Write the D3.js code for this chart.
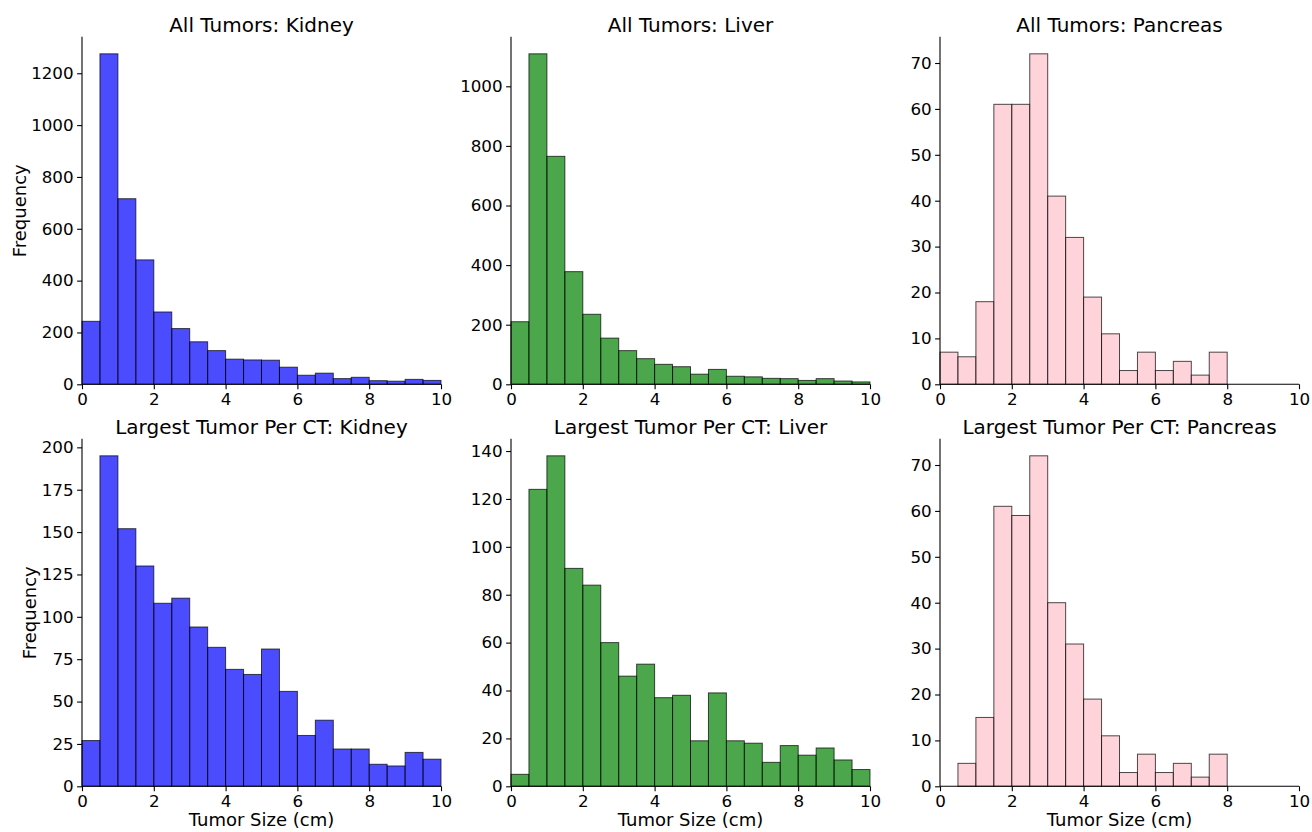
<!DOCTYPE html>
<html>
<head>
<meta charset="utf-8">
<script src="https://cdn.jsdelivr.net/npm/d3@7"></script>
<style>
  body { margin: 0; background: #fff; }
  svg { display: block; font-family: "DejaVu Sans", sans-serif; }
</style>
</head>
<body>
<script>
'use strict';
// histogram bins (cm)
const binEdges = [0, 0.5, 1, 1.5, 2, 2.5, 3, 3.5, 4, 4.5, 5, 5.5, 6, 6.5, 7, 7.5, 8, 8.5, 9, 9.5, 10];

const titles = [
  'All Tumors: Kidney', 'All Tumors: Liver', 'All Tumors: Pancreas',
  'Largest Tumor Per CT: Kidney', 'Largest Tumor Per CT: Liver', 'Largest Tumor Per CT: Pancreas'
];

// counts per bin
const allKidney = [243, 1275, 716, 480, 279, 215, 164, 130, 97, 94, 93, 66, 35, 43, 22, 27, 14, 12, 19, 15];
const allLiver = [210, 1109, 765, 378, 235, 155, 113, 86, 67, 59, 34, 50, 27, 25, 20, 19, 13, 19, 11, 8];
const allPancreas = [7, 6, 18, 61, 61, 72, 41, 32, 19, 11, 3, 7, 3, 5, 2, 7, 0, 0, 0, 0];
const largestKidney = [27, 195, 152, 130, 108, 111, 94, 82, 69, 66, 81, 56, 30, 39, 22, 22, 13, 12, 20, 16];
const largestLiver = [5, 124, 138, 91, 84, 60, 46, 51, 37, 38, 19, 39, 19, 18, 10, 17, 13, 16, 11, 7];
const largestPancreas = [0, 5, 15, 61, 59, 72, 40, 31, 19, 11, 3, 7, 3, 5, 2, 7, 0, 0, 0, 0];

const xTicks = [0, 2, 4, 6, 8, 10];
const yTicksAllKidney = [0, 200, 400, 600, 800, 1000, 1200];
const yTicksAllLiver = [0, 200, 400, 600, 800, 1000];
const yTicksPancreas = [0, 10, 20, 30, 40, 50, 60, 70];
const yTicksLargestKidney = [0, 25, 50, 75, 100, 125, 150, 175, 200];
const yTicksLargestLiver = [0, 20, 40, 60, 80, 100, 120, 140];

const panels = [
  {title: titles[0], counts: allKidney, ticks: yTicksAllKidney, color: 'blue', row: 0, col: 0},
  {title: titles[1], counts: allLiver, ticks: yTicksAllLiver, color: 'green', row: 0, col: 1},
  {title: titles[2], counts: allPancreas, ticks: yTicksPancreas, color: 'pink', row: 0, col: 2},
  {title: titles[3], counts: largestKidney, ticks: yTicksLargestKidney, color: 'blue', row: 1, col: 0},
  {title: titles[4], counts: largestLiver, ticks: yTicksLargestLiver, color: 'green', row: 1, col: 1},
  {title: titles[5], counts: largestPancreas, ticks: yTicksPancreas, color: 'pink', row: 1, col: 2}
];

const W = 1312, H = 832;
const colLeft = [82, 511, 940];
const axW = 359;
const rowTop = [37.3, 439.3];
const axH = 347;

const svg = d3.select('body').append('svg')
  .attr('width', W)
  .attr('height', H);

panels.forEach(function (p) {
  const x0 = colLeft[p.col], y0 = rowTop[p.row];
  const g = svg.append('g').attr('transform', 'translate(' + x0 + ',' + y0 + ')');

  const x = d3.scaleLinear().domain([0, 10]).range([0, axW]);
  const y = d3.scaleLinear().domain([0, d3.max(p.counts) * 1.05]).range([axH, 0]);

  const bins = p.counts.map((c, i) => ({x0: binEdges[i], x1: binEdges[i + 1], n: c}));

  g.selectAll('.bar')
    .data(bins)
    .enter()
    .append('rect')
    .attr('class', 'bar')
    .attr('x', (d) => x(d.x0))
    .attr('width', (d) => x(d.x1) - x(d.x0))
    .attr('y', (d) => y(d.n))
    .attr('height', (d) => y(0) - y(d.n))
    .attr('fill', p.color)
    .attr('fill-opacity', 0.7)
    .attr('stroke', 'black')
    .attr('stroke-opacity', 0.7)
    .attr('stroke-width', 1);

  const xAxis = g.append('g')
    .attr('transform', 'translate(0,' + axH + ')')
    .call(d3.axisBottom(x).tickValues(xTicks).tickSize(4.9).tickPadding(3.5).tickFormat(d3.format('d')));
  const yAxis = g.append('g')
    .call(d3.axisLeft(y).tickValues(p.ticks).tickSize(4.9).tickPadding(3.5).tickFormat(d3.format('d')));

  [xAxis, yAxis].forEach(function (a) {
    a.select('.domain').attr('stroke', 'black').attr('stroke-width', 1.1)
      .attr('d', a === xAxis ? 'M0,0H' + axW : 'M0,' + axH + 'V' + (y.range()[1] - 0.5));
    a.selectAll('.tick line').attr('stroke', 'black').attr('stroke-width', 1.1);
    a.selectAll('.tick text').attr('font-size', 16.7).attr('fill', 'black')
      .attr('font-family', '"DejaVu Sans", sans-serif');
  });
  xAxis.selectAll('.tick text').attr('dy', '0.76em');

  g.append('text')
    .attr('x', axW / 2)
    .attr('y', -5)
    .attr('text-anchor', 'middle')
    .attr('font-size', 20)
    .attr('fill', 'black')
    .text(p.title);

  if (p.col === 0) {
    const labelX = p.row === 0 ? 20 - x0 : 30 - x0;
    g.append('text')
      .attr('transform', 'translate(' + labelX + ',' + (axH / 2) + ') rotate(-90)')
      .attr('text-anchor', 'middle')
      .attr('dy', '0.35em')
      .attr('font-size', 18)
      .attr('fill', 'black')
      .text('Frequency');
  }
  if (p.row === 1) {
    g.append('text')
      .attr('x', axW / 2)
      .attr('y', 826.5 - y0)
      .attr('text-anchor', 'middle')
      .attr('font-size', 18)
      .attr('fill', 'black')
      .text('Tumor Size (cm)');
  }
});
</script>
</body>
</html>
